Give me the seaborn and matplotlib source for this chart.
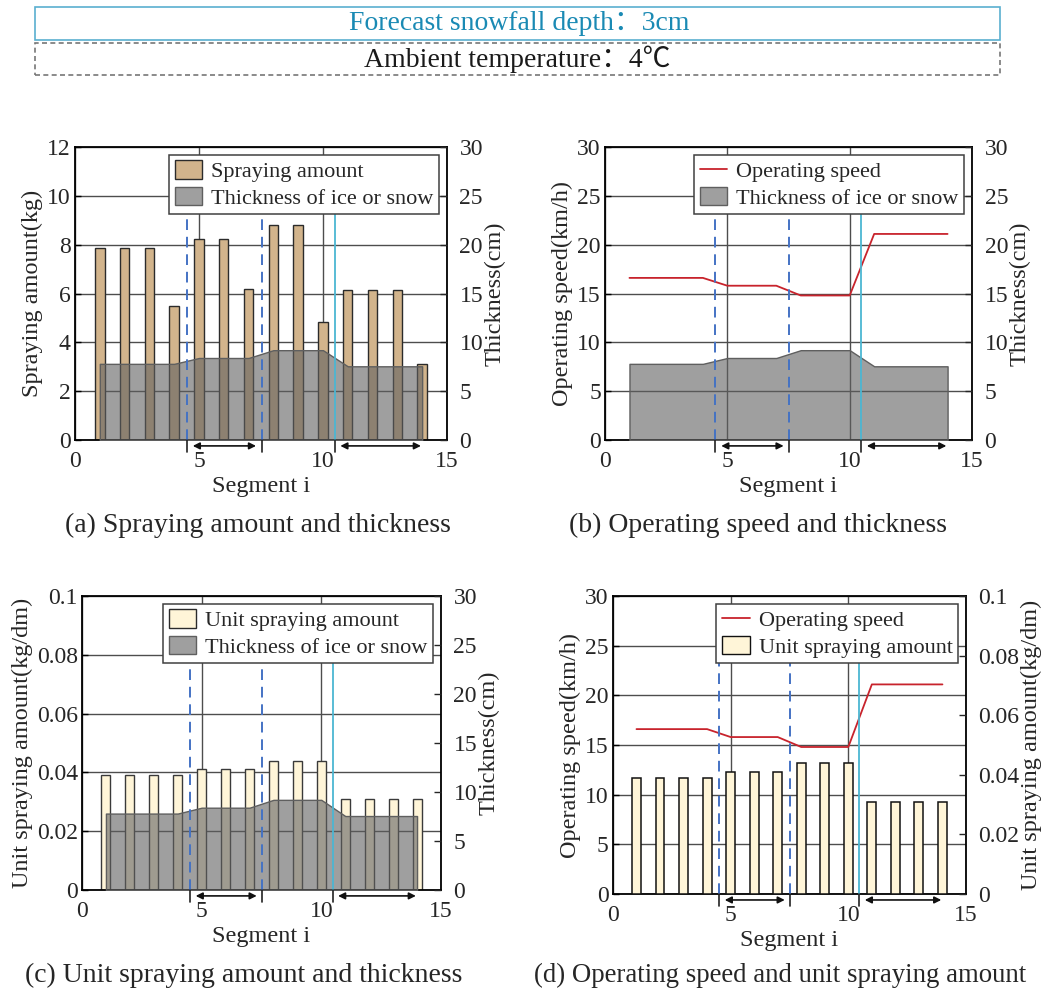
import numpy as np
import seaborn as sns
import matplotlib.pyplot as plt
from matplotlib.patches import Patch, Rectangle
from matplotlib.lines import Line2D

# ---- data ----
segments = np.arange(1, 15)
spraying_amount = [7.85, 7.85, 7.85, 5.5, 8.25, 8.25, 6.2, 8.8, 8.8, 4.85, 6.15, 6.15, 6.15, 3.1]
unit_spraying = [0.039, 0.039, 0.039, 0.039, 0.041, 0.041, 0.041, 0.044, 0.044, 0.044,
                 0.031, 0.031, 0.031, 0.031]
thickness = [7.8, 7.8, 7.8, 7.8, 8.4, 8.4, 8.4, 9.2, 9.2, 9.2, 7.55, 7.55, 7.55, 7.55]
speed = [16.6, 16.6, 16.6, 16.6, 15.8, 15.8, 15.8, 14.8, 14.8, 14.8, 21.1, 21.1, 21.1, 21.1]

boundaries_dashed = [4.5, 7.53]
boundary_solid = 10.47
arrow_spans = [(4.75, 7.3), (10.7, 13.95)]

unit_ticks = [0, 0.02, 0.04, 0.06, 0.08, 0.1]
unit_ticklabels = ["0", "0.02", "0.04", "0.06", "0.08", "0.1"]

sns.set_theme(style="white")
plt.rcParams["font.family"] = ["Liberation Serif", "Noto Sans CJK SC", "DejaVu Sans"]

TICK_FS = 17
LABEL_FS = 17.5
LEG_FS = 16
TAN = "#D2B48C"
CREAM = "#FFF5D8"
AREA_FACE = (0.376, 0.376, 0.376, 0.6)
AREA_EDGE = "#5F5F5F"
RED = "#C8232C"
BLUE = "#4472C4"
CYAN = "#4BB6D2"

fig = plt.figure(figsize=(10.46, 9.94), dpi=100)


def base_style(ax, ylim, yticks, ylabel, ticklabels=None):
    ax.set_xlim(0, 15)
    ax.set_xticks([0, 5, 10, 15])
    ax.set_ylim(*ylim)
    ax.set_yticks(yticks)
    if ticklabels is not None:
        ax.set_yticklabels(ticklabels)
    ax.grid(True, color="#4d4d4d", lw=1)
    ax.set_axisbelow(True)
    ax.tick_params(direction="in", labelsize=TICK_FS, length=4, width=1, color="black")
    ax.tick_params(axis="x", pad=8)
    ax.tick_params(axis="y", pad=3)
    ax.set_xlabel("Segment i", fontsize=LABEL_FS, labelpad=3)
    ax.set_ylabel(ylabel, fontsize=LABEL_FS, labelpad=3)
    for s in ax.spines.values():
        s.set_color("black")
        s.set_linewidth(1.3)


def twin_style(ax2, ylim, yticks, ylabel, ticklabels=None):
    ax2.set_ylim(*ylim)
    ax2.set_yticks(yticks)
    if ticklabels is not None:
        ax2.set_yticklabels(ticklabels)
    ax2.grid(False)
    ax2.tick_params(direction="in", labelsize=TICK_FS, length=5, width=1, pad=9)
    ax2.set_ylabel(ylabel, fontsize=LABEL_FS, labelpad=1)
    for s in ax2.spines.values():
        s.set_visible(False)


def marks(ax, top=0.775):
    tr = ax.get_xaxis_transform()
    for b in boundaries_dashed:
        ax.plot([b, b], [0, top], transform=tr, color=BLUE, lw=1.4,
                ls=(0, (5.5, 3.5)), clip_on=False, zorder=6)
        ax.plot([b, b], [-0.04, 0], transform=tr, color="#222222", lw=1.2,
                clip_on=False, zorder=6)
    ax.plot([boundary_solid] * 2, [0, top], transform=tr, color=CYAN, lw=1.3,
            clip_on=False, zorder=6)
    ax.plot([boundary_solid] * 2, [-0.04, 0], transform=tr, color="#222222", lw=1.2,
            clip_on=False, zorder=6)
    for s, e in arrow_spans:
        ax.annotate("", xy=(e, -0.02), xytext=(s, -0.02), xycoords=tr,
                    arrowprops=dict(arrowstyle="<|-|>", color="#111111", lw=1.2,
                                    mutation_scale=10, shrinkA=0, shrinkB=0),
                    annotation_clip=False, zorder=6)


def legend(ax, handles, labels):
    leg = ax.legend(handles, labels, loc="upper right", fontsize=LEG_FS, frameon=True,
                    fancybox=False, framealpha=1, edgecolor="#404040",
                    borderaxespad=0.35, borderpad=0.25, labelspacing=0.2,
                    handlelength=1.25, handleheight=0.9, handletextpad=0.4)
    leg.get_frame().set_linewidth(1.1)
    leg.set_zorder(10)


def area(ax2):
    ax2.fill_between(segments, 0, thickness, facecolor=AREA_FACE,
                     edgecolor=AREA_EDGE, lw=1, zorder=3)


area_patch = Patch(facecolor=AREA_FACE, edgecolor=AREA_EDGE, lw=1)
speed_line = Line2D([], [], color=RED, lw=1.3)

# ---- (a) spraying amount and thickness ----
ax = fig.add_axes([0.0717, 0.5573, 0.3556, 0.2948])
sns.barplot(x=segments, y=spraying_amount, native_scale=True, width=0.38, color=TAN,
            saturation=1, edgecolor="#2b2b2b", linewidth=1, errorbar=None, ax=ax)
base_style(ax, (0, 12), [0, 2, 4, 6, 8, 10, 12], "Spraying amount(kg)")
ax2 = ax.twinx()
area(ax2)
twin_style(ax2, (0, 30), [0, 5, 10, 15, 20, 25, 30], "Thickness(cm)")
marks(ax2)
legend(ax2, [Patch(facecolor=TAN, edgecolor="#2b2b2b", lw=1), area_patch],
       ["Spraying amount", "Thickness of ice or snow"])

# ---- (b) operating speed and thickness ----
ax = fig.add_axes([0.5784, 0.5573, 0.3509, 0.2948])
sns.lineplot(x=segments, y=speed, color=RED, lw=1.3, ax=ax)
base_style(ax, (0, 30), [0, 5, 10, 15, 20, 25, 30], "Operating speed(km/h)")
ax2 = ax.twinx()
area(ax2)
twin_style(ax2, (0, 30), [0, 5, 10, 15, 20, 25, 30], "Thickness(cm)")
marks(ax2)
legend(ax2, [speed_line, area_patch], ["Operating speed", "Thickness of ice or snow"])

# ---- (c) unit spraying amount and thickness ----
ax = fig.add_axes([0.0784, 0.1046, 0.3432, 0.2958])
sns.barplot(x=segments, y=unit_spraying, native_scale=True, width=0.38, color=CREAM,
            saturation=1, edgecolor="#3a3a3a", linewidth=1, errorbar=None, ax=ax)
base_style(ax, (0, 0.1), unit_ticks, "Unit spraying amount(kg/dm)", unit_ticklabels)
ax2 = ax.twinx()
area(ax2)
twin_style(ax2, (0, 30), [0, 5, 10, 15, 20, 25, 30], "Thickness(cm)")
marks(ax2)
legend(ax2, [Patch(facecolor=CREAM, edgecolor="#2b2b2b", lw=1), area_patch],
       ["Unit spraying amount", "Thickness of ice or snow"])

# ---- (d) operating speed and unit spraying amount ----
ax = fig.add_axes([0.586, 0.1006, 0.3375, 0.2998])
sns.lineplot(x=segments, y=speed, color=RED, lw=1.3, ax=ax)
base_style(ax, (0, 30), [0, 5, 10, 15, 20, 25, 30], "Operating speed(km/h)")
ax2 = ax.twinx()
sns.barplot(x=segments, y=unit_spraying, native_scale=True, width=0.38, color=CREAM,
            saturation=1, edgecolor="#111111", linewidth=1.1, errorbar=None, ax=ax2)
ax2.set_xlim(0, 15)
ax2.set_xticks([0, 5, 10, 15])
twin_style(ax2, (0, 0.1), unit_ticks, "Unit spraying amount(kg/dm)", unit_ticklabels)
marks(ax2)
legend(ax2, [speed_line, Patch(facecolor=CREAM, edgecolor="#111111", lw=1)],
       ["Operating speed", "Unit spraying amount"])

# ---- captions ----
CAP_FS = 20
fig.text(258 / 1046, 1 - 525 / 994, "(a) Spraying amount and thickness",
         ha="center", va="center", fontsize=CAP_FS)
fig.text(758 / 1046, 1 - 525 / 994, "(b) Operating speed and thickness",
         ha="center", va="center", fontsize=CAP_FS)
fig.text(244 / 1046, 1 - 975 / 994, "(c) Unit spraying amount and thickness",
         ha="center", va="center", fontsize=CAP_FS)
fig.text(534 / 1046, 1 - 975 / 994, "(d) Operating speed and unit spraying amount",
         ha="left", va="center", fontsize=19.3)

# ---- condition boxes at top ----
fig.patches.append(Rectangle((35 / 1046, 1 - 40 / 994), 965 / 1046, 33 / 994,
                             transform=fig.transFigure, fill=False,
                             edgecolor="#5AAFD0", lw=1.2))
fig.patches.append(Rectangle((35 / 1046, 1 - 75 / 994), 965 / 1046, 32 / 994,
                             transform=fig.transFigure, fill=False,
                             edgecolor="#777777", lw=1.2, ls=(0, (3, 2))))
fig.text(519 / 1046, 1 - 24 / 994, "Forecast snowfall depth：3cm", ha="center",
         va="center", fontsize=20, color="#1A8AB4")
fig.text(517 / 1046, 1 - 59 / 994, "Ambient temperature：4℃", ha="center",
         va="center", fontsize=20, color="#1a1a1a")

fig.savefig("out.png", dpi=100)
